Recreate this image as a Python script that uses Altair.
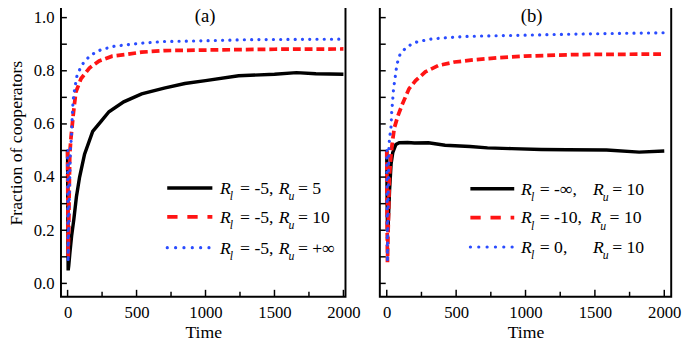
import altair as alt
import pandas as pd

FONT = "Liberation Serif"

# ---------------- data ----------------
# panel (a)
a_black_t = [0, 2, 4, 8, 17, 29, 45, 64, 87, 123, 182, 241, 300, 407, 537, 700, 850, 1000, 1240, 1500, 1660, 1800, 2000]
a_black_f = [0.5, 0.25, 0.049, 0.065, 0.117, 0.178, 0.24, 0.326, 0.40, 0.486, 0.572, 0.609, 0.646, 0.683, 0.713, 0.735, 0.752, 0.763, 0.781, 0.787, 0.793, 0.789, 0.787]
a_red_t = [0, 2, 4, 8, 12, 16, 25, 42, 60, 97, 158, 229, 324, 419, 537, 703, 1000, 1500, 2000]
a_red_f = [0.5, 0.3, 0.1, 0.2, 0.35, 0.49, 0.55, 0.64, 0.72, 0.77, 0.81, 0.837, 0.855, 0.861, 0.87, 0.876, 0.878, 0.881, 0.882]
a_blue_t = [0, 2, 4, 8, 14, 20, 28, 34, 40, 52, 68, 99, 130, 175, 241, 336, 431, 537, 703, 1000, 1300, 1600, 2000]
a_blue_f = [0.5, 0.3, 0.08, 0.2, 0.35, 0.5, 0.553, 0.63, 0.689, 0.734, 0.781, 0.818, 0.84, 0.861, 0.879, 0.892, 0.898, 0.904, 0.91, 0.913, 0.917, 0.918, 0.919]

# panel (b)
b_black_t = [0, 2, 5, 10, 20, 31, 43, 66, 90, 150, 200, 300, 420, 600, 726, 900, 1113, 1300, 1584, 1819, 2000]
b_black_f = [0.5, 0.35, 0.2, 0.22, 0.35, 0.449, 0.492, 0.523, 0.529, 0.53, 0.528, 0.529, 0.52, 0.515, 0.51, 0.507, 0.504, 0.503, 0.502, 0.494, 0.498]
b_red_t = [0, 2, 5, 10, 19, 30, 40, 54, 80, 109, 160, 208, 278, 373, 490, 641, 800, 994, 1348, 1700, 2000]
b_red_f = [0.5, 0.3, 0.08, 0.2, 0.4, 0.48, 0.53, 0.584, 0.63, 0.67, 0.732, 0.763, 0.796, 0.82, 0.833, 0.842, 0.849, 0.855, 0.861, 0.862, 0.863]
b_blue_t = [0, 2, 5, 10, 15, 19, 31, 35, 42, 49, 61, 73, 94, 130, 172, 219, 314, 420, 561, 702, 1000, 1348, 1700, 2000]
b_blue_f = [0.5, 0.3, 0.08, 0.3, 0.5, 0.541, 0.59, 0.64, 0.685, 0.732, 0.777, 0.824, 0.859, 0.882, 0.898, 0.909, 0.919, 0.924, 0.929, 0.931, 0.934, 0.938, 0.941, 0.943]

a_legend = [("= -5,", "= 5"), ("= -5,", "= 10"), ("= -5,", "= +\u221e")]
b_legend = [("= -\u221e,", "= 10"), ("= -10,", "= 10"), ("= 0,", "= 10")]

x_major = [0, 500, 1000, 1500, 2000]
x_minor = [250, 750, 1250, 1750]
y_ticks = [0.0, 0.1, 0.2, 0.3, 0.4, 0.5, 0.6, 0.7, 0.8, 0.9, 1.0]
y_labels = [0.0, 0.2, 0.4, 0.6, 0.8, 1.0]

# ---------------- styles ----------------
H = 298
STYLES = [
    dict(color="black", strokeWidth=3.5),
    dict(color="#ff1414", strokeWidth=3.8, strokeDash=[8, 4]),
    dict(color="#2a4cff", strokeWidth=3.2, strokeDash=[0.1, 7.3], strokeCap="round"),
]
LEG_STYLES = [
    dict(color="black", strokeWidth=3.5),
    dict(color="#ff1414", strokeWidth=3.8, strokeDash=[10.5, 10]),
    dict(color="#2a4cff", strokeWidth=3.2, strokeDash=[0.1, 8.4], strokeCap="round"),
]


def panel(series, xdom, width, show_y, tag, tag_x, legend, leg_x, row_y, text_x):
    xs = alt.Scale(domain=xdom, nice=False, zero=False)
    ys = alt.Scale(domain=[-0.05, 1.05], nice=False, zero=False)
    common = dict(labelFont=FONT, labelFontSize=17, labelColor="black",
                  titleFont=FONT, titleFontSize=18, titleFontWeight="normal",
                  titleColor="black", domain=False, ticks=False, grid=False,
                  labelFlush=False)
    xaxis = alt.Axis(values=x_major, format="d", title="Time", labelPadding=8, titlePadding=4, **common)
    if show_y:
        yaxis = alt.Axis(values=y_labels, format=".1f", title="Fraction of cooperators",
                         labelPadding=7, titlePadding=8, titleY=141, **common)
    else:
        yaxis = None

    layers = []
    for (t, f), st in zip(series, STYLES):
        df = pd.DataFrame({"t": t, "f": f})
        layers.append(
            alt.Chart(df).mark_line(clip=True, **st).encode(
                x=alt.X("t:Q", scale=xs, axis=xaxis),
                y=alt.Y("f:Q", scale=ys, axis=yaxis),
            )
        )

    # inward ticks
    layers.append(alt.Chart(pd.DataFrame({"t": x_major})).mark_rule(color="black", strokeWidth=1.5).encode(
        x=alt.X("t:Q", scale=xs, axis=xaxis), y=alt.value(H), y2=alt.value(H - 7)))
    layers.append(alt.Chart(pd.DataFrame({"t": x_minor})).mark_rule(color="black", strokeWidth=1.5).encode(
        x=alt.X("t:Q", scale=xs, axis=xaxis), y=alt.value(H), y2=alt.value(H - 5)))
    layers.append(alt.Chart(pd.DataFrame({"f": y_ticks})).mark_rule(color="black", strokeWidth=1.5).encode(
        y=alt.Y("f:Q", scale=ys, axis=yaxis), x=alt.value(0), x2=alt.value(6)))

    one = pd.DataFrame({"k": [0]})
    # legend
    for i, ((r1, r2), st) in enumerate(zip(legend, LEG_STYLES)):
        yy = row_y[i]
        layers.append(alt.Chart(one).mark_rule(**st).encode(
            x=alt.value(leg_x[0]), x2=alt.value(leg_x[1]), y=alt.value(yy)))
        xr1, xl, xrest1, xr2 = text_x[0], text_x[1], text_x[2], text_x[3][i]
        pieces = [
            (xr1, yy + 6, "R", 18, "italic"),
            (xl, yy + 12.5, "l", 12, "italic"),
            (xrest1, yy + 6, r1, 18, "normal"),
            (xr2, yy + 6, "R", 18, "italic"),
            (xr2 + 10, yy + 12.5, "u", 12, "italic"),
            (xr2 + 19.5, yy + 6, r2, 18, "normal"),
        ]
        for (px, py, txt, fs, sty) in pieces:
            layers.append(alt.Chart(one).mark_text(
                font=FONT, fontSize=fs, fontStyle=sty, align="left", baseline="alphabetic",
                color="black").encode(x=alt.value(px), y=alt.value(py), text=alt.value(txt)))

    layers.append(alt.Chart(one).mark_text(
        font=FONT, fontSize=19, align="center", baseline="alphabetic", color="black").encode(
        x=alt.value(tag_x), y=alt.value(18), text=alt.value(tag)))

    return alt.layer(*layers).properties(width=width, height=H)


pa = panel([(a_black_t, a_black_f), (a_red_t, a_red_f), (a_blue_t, a_blue_f)],
           [-48, 2015], 290, True, "(a)", 147, a_legend, (108.3, 154.3),
           [187.3, 216.7, 248], (162, 172, 182.5, [222, 222, 222]))
pb = panel([(b_black_t, b_black_f), (b_red_t, b_red_f), (b_blue_t, b_blue_f)],
           [-50, 2050], 297, False, "(b)", 154.7, b_legend, (92.3, 137),
           [188, 217.3, 247.3], (144, 154, 163, [217.3, 214.7, 217.3]))

chart = alt.hconcat(pa, pb, spacing=35, bounds="flush").properties(
    padding={"left": -2, "top": -8, "right": 0, "bottom": 0}
).configure_view(stroke="black", strokeWidth=2)

chart.save("out.html", embed_options={"renderer": "svg", "actions": False})
